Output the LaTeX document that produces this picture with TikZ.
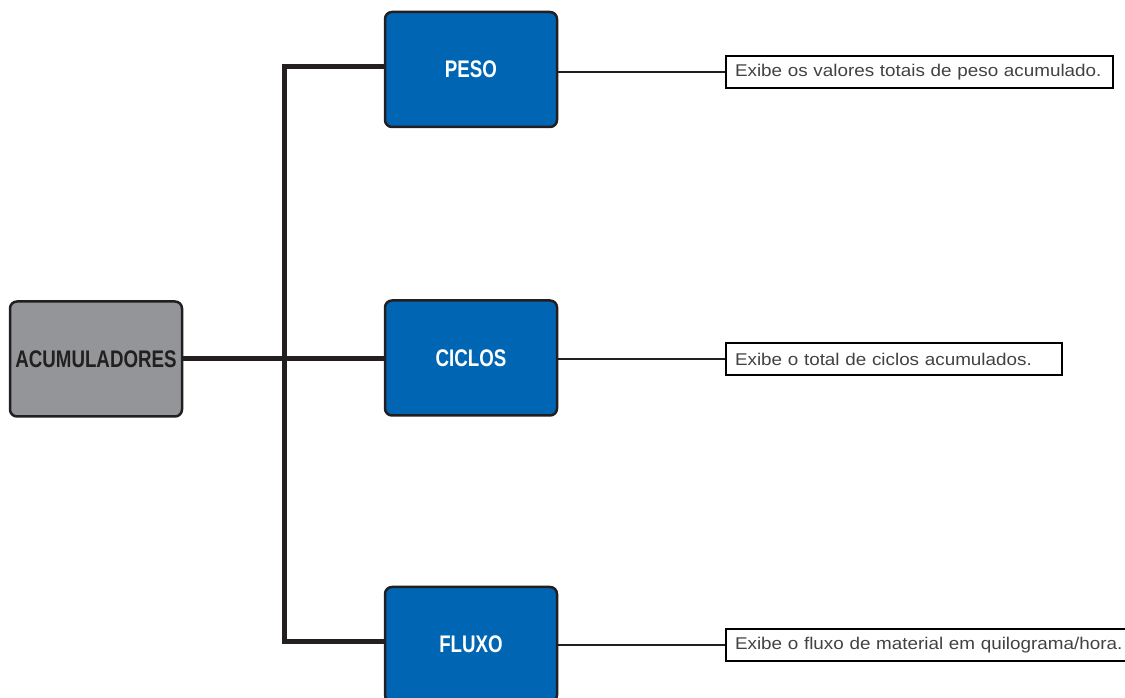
\documentclass[tikz,border=0pt]{standalone}
\usepackage{fontspec}
\setmainfont{Liberation Sans}
\newfontfamily\boxfont[FakeStretch=0.78]{Liberation Sans}
\newfontfamily\descfont[FakeStretch=1.11]{Liberation Sans}
\usetikzlibrary{positioning, calc}
\definecolor{acumgray}{HTML}{939598}
\definecolor{keyblue}{HTML}{0066B3}
\definecolor{inkline}{HTML}{231F20}
\tikzset{
    every node/.style={transform shape},
    topbox/.style={draw=inkline, line width=2.5pt, rounded corners=7pt,
        minimum width=172pt, minimum height=115pt, inner sep=0pt,
        font=\boxfont\bfseries\fontsize{24}{28}\selectfont},
    mainbox/.style={topbox, fill=acumgray, text=inkline},
    itembox/.style={topbox, fill=keyblue, text=white},
    descbox/.style={draw=black, line width=2pt, anchor=west, align=left,
        minimum height=32pt, inner xsep=9pt, inner ysep=0pt,
        font=\descfont\fontsize{17}{20}\selectfont, text=inkline!85},
    trunk/.style={draw=inkline, line width=5pt},
    twig/.style={draw=inkline, line width=2pt},
}
\begin{document}
\begin{tikzpicture}[x=1pt, y=1pt]
    \useasboundingbox (0, 0) rectangle (1125, 698);
    \clip (0, 0) rectangle (1125, 698);
    % main and item boxes
    \node[mainbox] (acum) at (96, 339) {ACUMULADORES};
    \node[itembox] (peso) at (471, 628.5) {PESO};
    \node[itembox] (ciclos) at (471, 340) {CICLOS};
    \node[itembox] (fluxo) at (471, 53.5) {FLUXO};
    % descriptions
    \node[descbox, text width=369pt] (dpeso) at (725, 626)
        {Exibe os valores totais de peso acumulado.};
    \node[descbox, text width=318pt] (dciclos) at (725, 339)
        {Exibe o total de ciclos acumulados.};
    \node[descbox, text width=400pt] (dfluxo) at (725, 53)
        {Exibe o fluxo de material em quilograma/hora.};
    % trunk
    \coordinate (split) at (284.5, 339);
    \draw[trunk] (acum.east) -- (acum.east -| ciclos.west);
    \draw[trunk] ([yshift=2.5pt]peso.west) -| (split) |- ([yshift=3pt]fluxo.west);
    \foreach \it in {peso, ciclos, fluxo}{
        \draw[twig] (d\it.west -| \it.east) -- (d\it.west);
    }
\end{tikzpicture}
\end{document}
